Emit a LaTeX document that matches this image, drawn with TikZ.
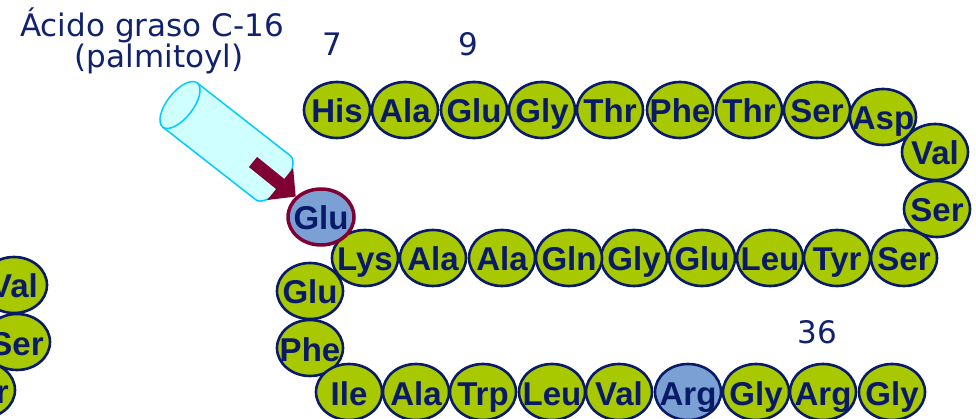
\documentclass[tikz,border=0pt]{standalone}
\usepackage{fontspec}
\newfontfamily\aafont{Liberation Sans}
\newfontfamily\lblfont{DejaVu Sans}
\usetikzlibrary{shapes.geometric,arrows.meta}
\definecolor{aagreen}{RGB}{168,200,0}
\definecolor{aanavy}{RGB}{8,26,104}
\definecolor{aablue}{RGB}{122,160,212}
\definecolor{aamaroon}{RGB}{128,0,52}
\definecolor{cylfill}{RGB}{208,255,255}
\definecolor{cyldraw}{RGB}{0,204,255}
\definecolor{lbl}{RGB}{16,34,110}
\newcommand\resid[1]{\makebox[0pt]{#1}}
\tikzset{
  aa/.style={ellipse, draw=aanavy, fill=aagreen, line width=2.6pt,
    minimum width=66pt, minimum height=56pt, inner sep=0pt, text=aanavy,
    font=\aafont\bfseries\fontsize{33}{33}\selectfont,
    text height=26pt, text depth=0pt},
  aab/.style={aa, fill=aablue},
  aam/.style={aab, draw=aamaroon, line width=3.5pt},
  num/.style={text=lbl, font=\lblfont\fontsize{31}{31}\selectfont, anchor=base, inner sep=0pt},
  cyl/.style={draw=cyldraw, fill=cylfill, line width=1.5pt}
}
\begin{document}
\begin{tikzpicture}[x=1pt,y=-1pt]
\fill[white] (0,0) rectangle (976,419);
\useasboundingbox (0,0) rectangle (976,419);

% labels
\node[num] (lblA) at (152,37) {Ácido graso C-16};
\node[num] (lblB) at (159,68) {(palmitoyl)};
\node[num] (n7) at (332.5,56) {7};
\node[num] (n9) at (468,56) {9};
\node[num] (n36) at (817.5,343) {36};

% cylinder (palmitoyl)
\begin{scope}[shift={(180,105)}, rotate=-38]
  \draw[cyl] (0pt,28pt) -- (118pt,28pt)
     arc[start angle=90, end angle=-90, x radius=13pt, y radius=28pt]
     -- (0pt,-28pt) -- cycle;
  \draw[cyl] (0pt,0pt) ellipse[x radius=13pt, y radius=28pt];
\end{scope}

% far-left partial chain
\node[aa] (lv) at (14,285) {\resid{Val}};
\node[aa] (ls) at (17,342) {\resid{Ser}};
\node[aa] (lx) at (-18,390) {\resid{Ser}};

% top row
\node[aa] (t1) at (337,110) {\resid{His}};
\node[aa] (t2) at (405,110) {\resid{Ala}};
\node[aa] (t3) at (474,110) {\resid{Glu}};
\node[aa] (t4) at (542,110) {\resid{Gly}};
\node[aa] (t5) at (610,110) {\resid{Thr}};
\node[aa] (t6) at (680,110) {\resid{Phe}};
\node[aa] (t7) at (749,110) {\resid{Thr}};
\node[aa] (t8) at (817,110) {\resid{Ser}};
\node[aa] (t9) at (883,117) {\resid{Asp}};
\node[aa] (r1) at (935,152) {\resid{Val}};
\node[aa] (r2) at (937,209) {\resid{Ser}};

% middle row
\node[aa] (m1) at (904,258) {\resid{Ser}};
\node[aa] (m2) at (837,258) {\resid{Tyr}};
\node[aa] (m3) at (770,258) {\resid{Leu}};
\node[aa] (m4) at (702,258) {\resid{Glu}};
\node[aa] (m5) at (634,258) {\resid{Gly}};
\node[aa] (m6) at (569,258) {\resid{Gln}};
\node[aa] (m7) at (502,258) {\resid{Ala}};
\node[aa] (m8) at (433,258) {\resid{Ala}};
\node[aa] (m9) at (365,258) {\resid{Lys}};
\node[aam] (glub) at (321,217) {\resid{Glu}};

% left column
\node[aa] (c1) at (310,291) {\resid{Glu}};
\node[aa] (c2) at (310,348) {\resid{Phe}};

% bottom row
\node[aa] (b1) at (349,392) {\resid{Ile}};
\node[aa] (b2) at (416,392) {\resid{Ala}};
\node[aa] (b3) at (483,392) {\resid{Trp}};
\node[aa] (b4) at (552,392) {\resid{Leu}};
\node[aa] (b5) at (619,392) {\resid{Val}};
\node[aab] (b6) at (688,392) {\resid{Arg}};
\node[aa] (b7) at (756,392) {\resid{Gly}};
\node[aa] (b8) at (823,392) {\resid{Arg}};
\node[aa] (b9) at (892,392) {\resid{Gly}};

% acylation arrow
\coordinate (arrtail) at (253,162);
\draw[aamaroon, line width=13pt, -{Triangle[length=20pt,width=40pt]}] (arrtail) -- (glub);
\end{tikzpicture}
\end{document}
